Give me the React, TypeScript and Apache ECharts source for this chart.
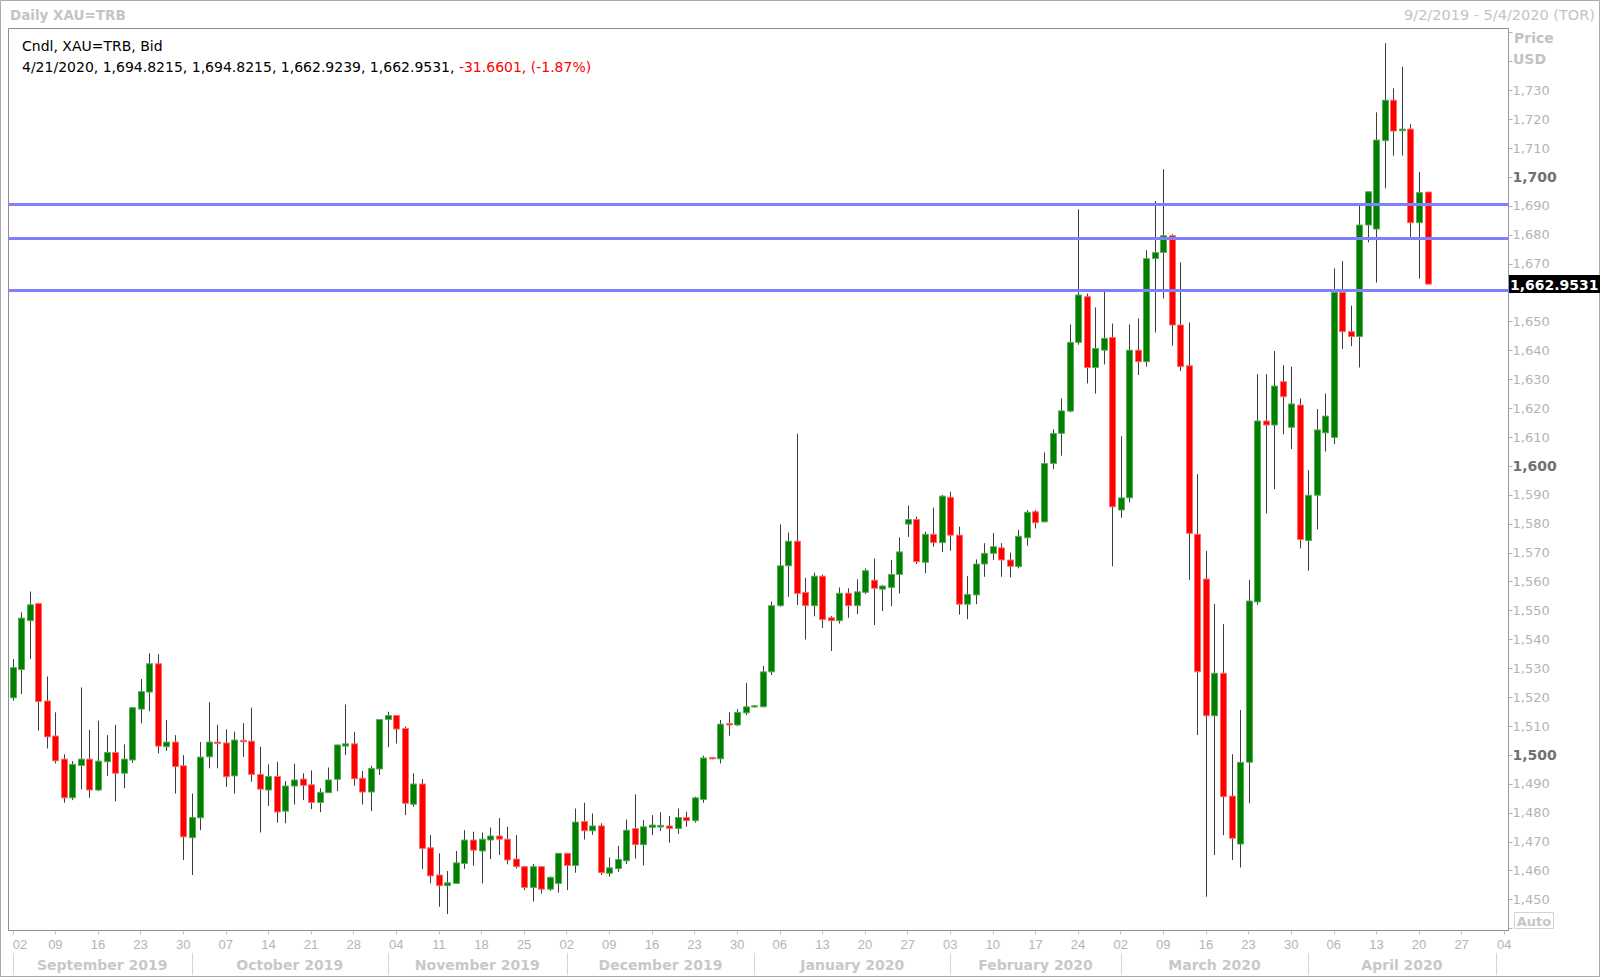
import React, { useEffect, useRef } from 'react';
import * as echarts from 'echarts';

const SYMBOL = 'XAU=TRB';
const START_DATE = '2019-09-02';
const END_DATE = '2020-05-04';

// [open, high, low, close] per trading day from 2019-09-02 to 2020-04-21
const CANDLES: number[][] = [
  [1519.8, 1533.2, 1518.8, 1530.3], [1529.6, 1549.4, 1521.1, 1547.4], [1546.5, 1556.6, 1533.2, 1552.0],
  [1552.4, 1552.7, 1508.5, 1518.5], [1518.7, 1527.2, 1502.3, 1506.3], [1506.6, 1514.8, 1497.1, 1498.0],
  [1498.6, 1500.3, 1483.5, 1485.2], [1485.2, 1497.9, 1484.4, 1496.8], [1496.4, 1523.4, 1488.1, 1498.6],
  [1498.6, 1508.7, 1485.2, 1487.9], [1487.9, 1511.9, 1487.5, 1497.9], [1497.7, 1506.9, 1492.8, 1500.9],
  [1500.9, 1510.5, 1484.0, 1493.7], [1493.7, 1503.7, 1488.5, 1498.6], [1498.3, 1516.6, 1497.3, 1516.4],
  [1515.9, 1526.3, 1511.0, 1522.0], [1521.8, 1535.2, 1515.2, 1531.6], [1531.6, 1534.9, 1500.6, 1503.1],
  [1502.9, 1512.1, 1501.4, 1504.5], [1504.5, 1506.9, 1486.7, 1496.0], [1496.3, 1500.0, 1463.7, 1471.7],
  [1471.4, 1486.7, 1458.5, 1478.4], [1478.3, 1504.5, 1474.0, 1499.3], [1499.4, 1518.3, 1495.4, 1504.5],
  [1504.5, 1510.5, 1495.4, 1504.0], [1504.2, 1508.9, 1489.0, 1492.5], [1492.8, 1508.1, 1486.7, 1505.2],
  [1505.1, 1511.0, 1499.4, 1504.6], [1504.8, 1516.4, 1490.8, 1493.3], [1493.3, 1502.9, 1473.2, 1488.2],
  [1487.9, 1496.8, 1482.4, 1492.6], [1492.6, 1497.7, 1476.6, 1480.3], [1480.6, 1491.0, 1476.4, 1489.3],
  [1489.3, 1497.0, 1482.9, 1491.4], [1491.7, 1493.7, 1484.4, 1489.5], [1489.7, 1494.7, 1481.3, 1483.6],
  [1483.6, 1488.5, 1480.2, 1487.1], [1487.0, 1495.7, 1486.9, 1491.4], [1491.6, 1503.6, 1487.5, 1503.5],
  [1503.1, 1517.5, 1500.0, 1503.9], [1503.9, 1508.0, 1489.4, 1491.8], [1492.0, 1494.5, 1482.9, 1487.2],
  [1487.2, 1496.3, 1480.6, 1495.4], [1495.2, 1512.4, 1493.1, 1512.3], [1512.3, 1515.0, 1502.7, 1513.7],
  [1513.7, 1513.7, 1504.0, 1509.0], [1509.2, 1509.8, 1479.2, 1483.3], [1483.0, 1493.7, 1482.1, 1490.0],
  [1490.0, 1491.7, 1460.6, 1467.7], [1467.9, 1472.3, 1455.6, 1458.2], [1458.5, 1466.0, 1447.5, 1454.8],
  [1454.8, 1459.9, 1445.0, 1455.8], [1455.6, 1466.8, 1455.4, 1462.7], [1462.5, 1474.0, 1460.6, 1470.6],
  [1470.6, 1473.5, 1461.7, 1467.1], [1466.8, 1473.2, 1455.6, 1470.9], [1470.6, 1474.9, 1464.0, 1472.0],
  [1472.0, 1478.2, 1465.4, 1470.9], [1470.9, 1475.2, 1462.2, 1463.7], [1464.0, 1472.3, 1460.8, 1461.4],
  [1461.4, 1461.7, 1453.3, 1454.2], [1454.2, 1462.3, 1449.3, 1461.4], [1461.4, 1461.4, 1452.1, 1453.6],
  [1453.6, 1458.0, 1453.0, 1457.7], [1455.6, 1466.0, 1452.4, 1466.0], [1466.0, 1466.0, 1453.3, 1461.8],
  [1461.8, 1481.5, 1459.3, 1476.8], [1477.0, 1483.5, 1470.8, 1473.8], [1473.8, 1479.8, 1472.4, 1475.5],
  [1475.5, 1476.4, 1458.5, 1459.3], [1459.1, 1464.6, 1457.9, 1461.0], [1460.7, 1468.6, 1459.6, 1463.9],
  [1463.4, 1477.7, 1462.3, 1474.0], [1474.6, 1486.4, 1464.2, 1469.0], [1469.0, 1477.5, 1461.8, 1475.2],
  [1475.0, 1479.2, 1472.3, 1475.8], [1475.1, 1480.2, 1473.7, 1475.7], [1475.5, 1478.9, 1469.7, 1474.6],
  [1474.6, 1481.5, 1472.7, 1478.4], [1478.4, 1480.4, 1475.2, 1477.3], [1477.3, 1485.6, 1476.6, 1485.2],
  [1484.6, 1499.8, 1483.5, 1499.0], [1499.2, 1499.3, 1498.5, 1498.7], [1498.7, 1512.1, 1497.1, 1510.7],
  [1510.9, 1514.8, 1506.7, 1510.4], [1510.4, 1515.9, 1510.0, 1514.8], [1514.6, 1525.0, 1513.8, 1516.7],
  [1516.7, 1517.3, 1516.5, 1517.0], [1516.7, 1530.9, 1516.5, 1528.8], [1528.8, 1553.1, 1527.7, 1551.7],
  [1551.7, 1579.8, 1551.3, 1565.5], [1565.5, 1577.0, 1554.8, 1574.0], [1574.0, 1611.2, 1551.9, 1555.9],
  [1556.3, 1561.3, 1540.0, 1551.7], [1551.7, 1563.1, 1548.0, 1561.9], [1561.9, 1562.5, 1544.0, 1546.9],
  [1547.5, 1548.1, 1536.0, 1546.5], [1546.5, 1558.0, 1545.5, 1556.0], [1556.0, 1557.7, 1547.5, 1551.7],
  [1551.7, 1560.8, 1548.8, 1556.5], [1556.3, 1564.6, 1555.7, 1563.8], [1560.5, 1568.0, 1545.0, 1557.7],
  [1557.4, 1558.8, 1549.8, 1558.5], [1558.0, 1567.5, 1551.5, 1562.5], [1562.5, 1575.3, 1555.9, 1570.3],
  [1579.9, 1586.3, 1575.5, 1581.5], [1581.5, 1582.5, 1566.1, 1566.9], [1566.7, 1577.3, 1562.9, 1576.4],
  [1576.4, 1585.6, 1572.1, 1573.5], [1573.5, 1590.0, 1570.2, 1589.6], [1589.2, 1591.1, 1570.7, 1576.1],
  [1576.1, 1579.0, 1548.6, 1552.2], [1552.2, 1561.9, 1547.0, 1555.6], [1555.4, 1567.7, 1552.2, 1566.1],
  [1566.1, 1573.3, 1561.7, 1569.8], [1569.8, 1576.8, 1567.5, 1572.1], [1571.7, 1573.3, 1561.7, 1567.5],
  [1567.5, 1570.1, 1561.5, 1565.3], [1565.2, 1577.9, 1564.6, 1575.7], [1575.2, 1584.8, 1572.4, 1584.0],
  [1584.2, 1584.8, 1578.4, 1580.4], [1580.7, 1604.7, 1580.5, 1600.9], [1600.9, 1612.7, 1598.9, 1611.3],
  [1611.3, 1623.4, 1603.6, 1619.1], [1619.0, 1649.0, 1618.6, 1642.8], [1642.8, 1688.8, 1642.0, 1659.2],
  [1658.6, 1659.7, 1628.6, 1634.1], [1634.1, 1654.9, 1625.1, 1640.7], [1640.1, 1660.3, 1635.2, 1644.2],
  [1644.5, 1649.3, 1565.3, 1585.9], [1584.8, 1610.3, 1582.1, 1589.0], [1589.0, 1649.0, 1587.4, 1640.1],
  [1640.1, 1651.1, 1631.5, 1636.1], [1636.1, 1674.7, 1634.4, 1671.8], [1671.8, 1691.7, 1646.2, 1673.9],
  [1673.9, 1702.7, 1658.0, 1679.7], [1679.7, 1680.2, 1641.6, 1648.8], [1648.8, 1670.5, 1632.9, 1634.4],
  [1634.7, 1649.7, 1560.6, 1576.7], [1576.4, 1597.2, 1506.9, 1528.8], [1560.9, 1570.6, 1451.0, 1513.6],
  [1513.6, 1552.3, 1465.4, 1528.3], [1528.3, 1545.3, 1472.3, 1485.6], [1485.8, 1500.3, 1463.7, 1471.2],
  [1469.2, 1515.6, 1461.1, 1497.5], [1497.5, 1560.6, 1483.3, 1553.3], [1553.0, 1631.8, 1552.0, 1615.6],
  [1615.6, 1631.8, 1583.6, 1614.2], [1614.2, 1639.8, 1592.0, 1627.7], [1629.2, 1634.9, 1611.0, 1624.0],
  [1613.4, 1634.4, 1605.9, 1621.5], [1621.1, 1623.4, 1571.5, 1574.6], [1574.2, 1598.6, 1563.8, 1589.9],
  [1589.9, 1619.7, 1578.1, 1612.5], [1611.5, 1625.1, 1605.0, 1617.3], [1609.9, 1668.4, 1607.6, 1660.1],
  [1660.1, 1670.9, 1640.5, 1646.5], [1646.5, 1655.5, 1641.5, 1644.8], [1644.8, 1690.0, 1634.1, 1683.4],
  [1683.4, 1695.0, 1677.4, 1694.9], [1682.0, 1722.4, 1663.5, 1712.8], [1712.6, 1746.3, 1696.1, 1726.6],
  [1726.6, 1730.7, 1707.4, 1715.9], [1716.0, 1738.2, 1707.4, 1716.6], [1716.6, 1718.3, 1679.3, 1684.2],
  [1684.2, 1701.8, 1664.9, 1694.6132], [1694.8215, 1694.8215, 1662.9239, 1662.9531],
];

const LEVELS = [1690.5, 1678.8, 1661.0];
const Y_MIN = 1439.3;
const Y_MAX = 1751.4;
const Y_LABEL_MIN = 1450;
const Y_LABEL_MAX = 1730;
const MONTH_NAMES = [
  'September 2019', 'October 2019', 'November 2019', 'December 2019',
  'January 2020', 'February 2020', 'March 2020', 'April 2020',
];
const MONTH_SEPARATORS = [0, 21, 44, 65, 87, 110, 130, 152, 174];

function buildWeekdays(start: string, end: string): string[] {
  const out: string[] = [];
  const d = new Date(start + 'T00:00:00Z');
  const e = new Date(end + 'T00:00:00Z');
  while (d <= e) {
    const wd = d.getUTCDay();
    if (wd !== 0 && wd !== 6) out.push(d.toISOString().slice(0, 10));
    d.setUTCDate(d.getUTCDate() + 1);
  }
  return out;
}
const DATES = buildWeekdays(START_DATE, END_DATE);

const usDate = (iso: string) => {
  const [y, m, d] = iso.split('-');
  return `${+m}/${+d}/${y}`;
};
const isMonday = (i: number) => new Date(DATES[i] + 'T00:00:00Z').getUTCDay() === 1;
const fmt4 = (v: number) =>
  v.toLocaleString('en-US', { minimumFractionDigits: 4, maximumFractionDigits: 4 });

const FONT = '"DejaVu Sans", Verdana, sans-serif';

function renderCandle(params: any, api: any) {
  const i = api.value(0);
  const o = api.value(1);
  const h = api.value(2);
  const l = api.value(3);
  const c = api.value(4);
  const po = api.coord([i, o]);
  const ph = api.coord([i, h]);
  const pl = api.coord([i, l]);
  const pc = api.coord([i, c]);
  const bx = Math.round(po[0]);
  const up = c >= o;
  let top = Math.min(po[1], pc[1]);
  let bot = Math.max(po[1], pc[1]);
  if (bot - top < 1.2) {
    const m = (top + bot) / 2;
    top = m - 0.6;
    bot = m + 0.6;
  }
  return {
    type: 'group',
    children: [
      {
        type: 'line',
        shape: { x1: bx + 0.5, y1: ph[1], x2: bx + 0.5, y2: pl[1] },
        style: { stroke: '#3c3c3c', lineWidth: 1 },
      },
      {
        type: 'rect',
        shape: { x: bx - 2.5, y: top, width: 6, height: bot - top },
        style: {
          fill: up ? '#008000' : '#ff0000',
          stroke: up ? '#5aac5a' : '#ff6b6b',
          lineWidth: 1,
        },
      },
    ],
  };
}

const textStyle = (extra: any) => ({
  fontFamily: FONT,
  align: 'left',
  verticalAlign: 'middle',
  textAlign: 'left',
  textVerticalAlign: 'middle',
  ...extra,
});

export default function App() {
  const ref = useRef<HTMLDivElement>(null);

  useEffect(() => {
    const chart = echarts.init(ref.current!, null, { renderer: 'svg' });
    const last = CANDLES[CANDLES.length - 1];
    const prevClose = CANDLES[CANDLES.length - 2][3];
    const change = last[3] - prevClose;
    const pct = (change / prevClose) * 100;
    const lastDate = DATES[CANDLES.length - 1];

    const option: any = {
      animation: false,
      backgroundColor: '#ffffff',
      grid: {
        left: 8.5,
        right: 91.5,
        top: 28.5,
        bottom: 47.5,
        show: true,
        borderColor: '#8c8c8c',
        borderWidth: 1,
        backgroundColor: 'transparent',
      },
      xAxis: {
        type: 'category',
        data: DATES,
        boundaryGap: true,
        axisLine: { show: false },
        axisTick: {
          show: true,
          alignWithLabel: true,
          interval: (i: number) => isMonday(i),
          length: 4,
          lineStyle: { color: '#c4c4c4' },
        },
        axisLabel: {
          interval: (i: number) => isMonday(i),
          formatter: (v: string) => v.slice(8, 10),
          color: '#b4b4b4',
          fontFamily: '"Liberation Sans", Arial, sans-serif',
          fontSize: 13,
          margin: 7,
          alignMinLabel: 'left',
        },
        splitLine: { show: false },
      },
      yAxis: {
        type: 'value',
        position: 'right',
        min: Y_MIN,
        max: Y_MAX,
        splitNumber: 31,
        minInterval: 10,
        maxInterval: 10,
        scale: true,
        axisLine: { show: true, lineStyle: { color: '#9a9a9a' } },
        axisTick: { show: true, length: 4, lineStyle: { color: '#b0b0b0' } },
        splitLine: { show: false },
        axisLabel: {
          margin: 4,
          showMinLabel: false,
          showMaxLabel: false,
          formatter: (v: number) => {
            const r = Math.round(v);
            if (Math.abs(v - r) > 0.01 || r % 10 !== 0) return '';
            if (r < Y_LABEL_MIN || r > Y_LABEL_MAX) return '';
            // the label under the last-price box is covered in the original
            if (Math.abs(r - last[3]) < 6) return '';
            const s = r.toLocaleString('en-US');
            return r % 100 === 0 ? `{b|${s}}` : `{n|${s}}`;
          },
          rich: {
            n: { color: '#b4b4b4', fontSize: 13, fontFamily: FONT },
            b: { color: '#707070', fontSize: 14, fontWeight: 'bold', fontFamily: FONT },
          },
        },
      },
      series: [
        {
          type: 'custom',
          name: SYMBOL,
          renderItem: renderCandle,
          data: CANDLES.map((d, i) => [i, d[0], d[1], d[2], d[3]]),
          encode: { x: 0, y: [1, 2, 3, 4] },
          clip: true,
          z: 3,
        },
        {
          type: 'line',
          name: 'close',
          data: CANDLES.map((d) => d[3]),
          showSymbol: false,
          symbol: 'none',
          silent: true,
          lineStyle: { opacity: 0 },
          z: 5,
          markLine: {
            silent: true,
            symbol: ['none', 'none'],
            animation: false,
            label: { show: false },
            lineStyle: { color: '#8080ff', width: 3, type: 'solid' },
            data: LEVELS.map((v) => ({ yAxis: v })),
          },
        },
      ],
    };

    chart.setOption(option);

    const px = (i: number) => chart.convertToPixel({ xAxisIndex: 0 }, i) as unknown as number;
    const lastY = chart.convertToPixel({ yAxisIndex: 0 }, last[3]) as unknown as number;

    const graphics: any[] = [
      {
        type: 'rect',
        shape: { x: 0.5, y: 0.5, width: 1599, height: 976 },
        style: { fill: 'none', stroke: '#ababab', lineWidth: 1 },
        silent: true,
        z: 0,
      },
      {
        type: 'text',
        x: 10,
        y: 14.5,
        style: textStyle({ text: `Daily ${SYMBOL}`, fill: '#c4c4c4', fontSize: 13.5, fontWeight: 'bold' }),
      },
      {
        type: 'text',
        x: 1595,
        y: 14.5,
        style: textStyle({
          text: `${usDate(DATES[0])} - ${usDate(DATES[DATES.length - 1])} (TOR)`,
          fill: '#c4c4c4',
          fontSize: 14.5,
          align: 'right',
          textAlign: 'right',
        }),
      },
      {
        type: 'text',
        x: 22,
        y: 46,
        z: 10,
        style: textStyle({ text: `Cndl, ${SYMBOL}, Bid`, fill: '#000000', fontSize: 14 }),
      },
      {
        type: 'text',
        x: 22,
        y: 67,
        z: 10,
        style: textStyle({
          text:
            `{k|${usDate(lastDate)}, ${fmt4(last[0])}, ${fmt4(last[1])}, ${fmt4(last[2])}, ${fmt4(last[3])}, }` +
            `{r|${fmt4(change)}, (${pct.toFixed(2)}%)}`,
          rich: {
            k: { fill: '#000000', color: '#000000', fontSize: 14, fontFamily: FONT },
            r: { fill: '#ff0000', color: '#ff0000', fontSize: 14, fontFamily: FONT },
          },
          fontSize: 14,
        }),
      },
      {
        type: 'text',
        x: 1514,
        y: 38,
        style: textStyle({ text: 'Price', fill: '#c2c2c2', fontSize: 14, fontWeight: 'bold' }),
      },
      {
        type: 'text',
        x: 1513,
        y: 59,
        style: textStyle({ text: 'USD', fill: '#c2c2c2', fontSize: 14, fontWeight: 'bold' }),
      },
      {
        type: 'rect',
        shape: { x: 1514.5, y: 912.5, width: 39, height: 16 },
        style: { fill: '#ffffff', stroke: '#d2d2d2', lineWidth: 1 },
      },
      {
        type: 'text',
        x: 1534,
        y: 921,
        style: textStyle({
          text: 'Auto',
          fill: '#c6c6c6',
          fontSize: 13,
          fontWeight: 'bold',
          align: 'center',
          textAlign: 'center',
        }),
      },
      {
        type: 'rect',
        z: 20,
        shape: { x: 1509, y: Math.round(lastY) - 9, width: 91, height: 18 },
        style: { fill: '#000000' },
      },
      {
        type: 'text',
        z: 21,
        x: 1510,
        y: Math.round(lastY) + 0.5,
        style: textStyle({ text: fmt4(last[3]), fill: '#ffffff', fontSize: 14, fontWeight: 'bold' }),
      },
    ];

    MONTH_SEPARATORS.forEach((idx) => {
      const x = Math.round(px(idx)) + 0.5;
      graphics.push({
        type: 'line',
        shape: { x1: x, y1: 953, x2: x, y2: 975 },
        style: { stroke: '#d6d6d6', lineWidth: 1 },
        silent: true,
      });
    });
    MONTH_NAMES.forEach((name, m) => {
      const cx = (px(MONTH_SEPARATORS[m]) + px(MONTH_SEPARATORS[m + 1])) / 2;
      graphics.push({
        type: 'text',
        x: cx,
        y: 965,
        style: textStyle({
          text: name,
          fill: '#c8c8c8',
          fontSize: 14,
          fontWeight: 'bold',
          align: 'center',
          textAlign: 'center',
        }),
      });
    });

    chart.setOption({ graphic: graphics });

    return () => chart.dispose();
  }, []);

  return (
    <div
      ref={ref}
      style={{ position: 'fixed', left: 0, top: 0, width: 1600, height: 978, background: '#ffffff' }}
    />
  );
}
